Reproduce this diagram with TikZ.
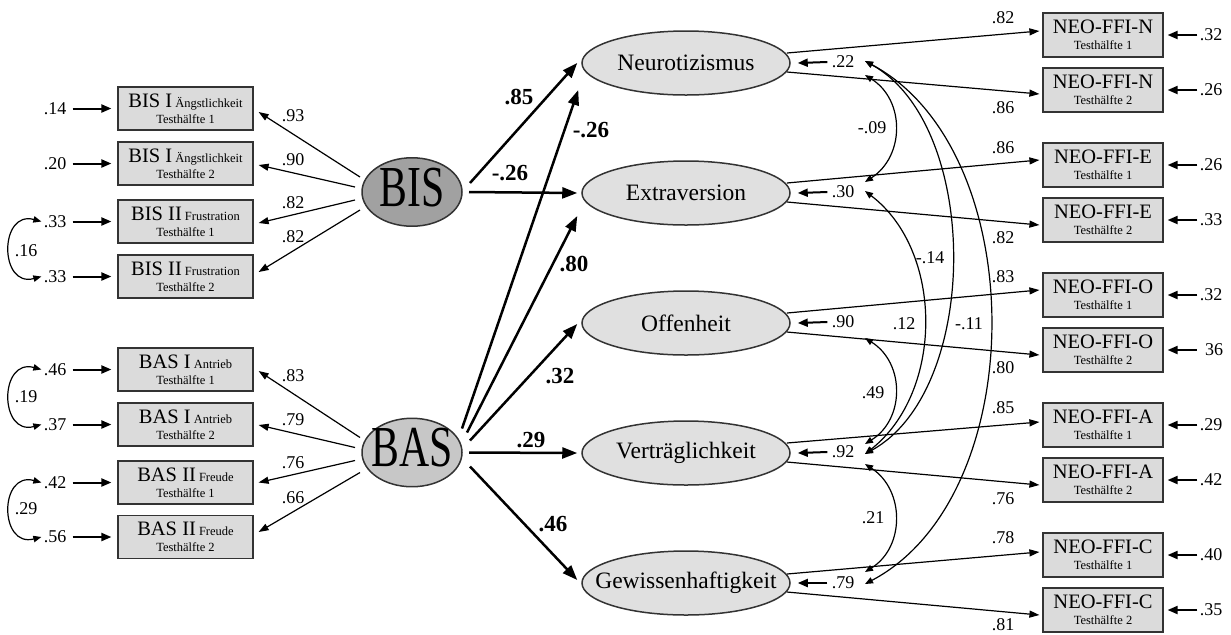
\documentclass[tikz,border=0pt]{standalone}
\usepackage{fontspec}
\setmainfont{Liberation Serif}
\usetikzlibrary{arrows.meta,calc,shapes.geometric}
\definecolor{boxfill}{gray}{0.86}
\definecolor{facfill}{gray}{0.88}
\definecolor{bisfill}{gray}{0.63}
\definecolor{basfill}{gray}{0.78}
\definecolor{edgecol}{gray}{0.2}
\newcommand\bigtxt[1]{{\fontsize{10.25}{8}\selectfont #1}}
\newcommand\latname[1]{\makebox[0pt]{\raisebox{5pt}{\scalebox{0.72}[1]{\fontsize{29}{29}\selectfont #1}}}}
\newcommand\facname[1]{\makebox[0pt]{#1}}
\begin{document}
\begin{tikzpicture}[x=0.5pt,y=-0.5pt,
  ind/.style={draw=edgecol, fill=boxfill, line width=0.6pt, minimum width=67.5pt, minimum height=21.5pt, inner sep=0pt, align=center, font=\fontsize{6.25}{8}\selectfont},
  rind/.style={ind, minimum width=60pt, minimum height=22pt},
  fac/.style={ellipse, draw=edgecol, fill=facfill, line width=0.75pt, minimum width=104pt, minimum height=32pt, inner sep=0pt, font=\fontsize{11.75}{12}\selectfont},
  lat/.style={ellipse, draw=edgecol, line width=0.75pt, minimum width=50pt, minimum height=34pt, inner sep=0pt},
  num/.style={font=\fontsize{9}{9}\selectfont, inner sep=0pt},
  bnum/.style={font=\bfseries\fontsize{11.5}{11.5}\selectfont, inner sep=0pt},
  spath/.style={line width=1.25pt, -{Triangle[length=7.5pt,width=5.5pt]}},
  load/.style={line width=0.6pt, -{Triangle[length=5pt,width=3.5pt]}},
  err/.style={line width=1pt, -{Triangle[length=5pt,width=4pt]}},
  cov/.style={line width=0.6pt, {Triangle[length=4pt,width=3.2pt]}-{Triangle[length=4pt,width=3.2pt]}},
]
\useasboundingbox (0,0) rectangle (1231,634);

% ---------- left indicator boxes ----------
\node[ind] (b1) at (185.5,108.5) {\bigtxt{BIS I} Ängstlichkeit\\Testhälfte 1};
\node[ind] (b2) at (185.5,163.5) {\bigtxt{BIS I} Ängstlichkeit\\Testhälfte 2};
\node[ind] (b3) at (185.5,221.5) {\bigtxt{BIS II} Frustration\\Testhälfte 1};
\node[ind] (b4) at (185.5,276.5) {\bigtxt{BIS II} Frustration\\Testhälfte 2};
\node[ind] (c1) at (185.5,369.5) {\bigtxt{BAS I} Antrieb\\Testhälfte 1};
\node[ind] (c2) at (185.5,424.5) {\bigtxt{BAS I} Antrieb\\Testhälfte 2};
\node[ind] (c3) at (185.5,482.5) {\bigtxt{BAS II} Freude\\Testhälfte 1};
\node[ind] (c4) at (185.5,537) {\bigtxt{BAS II} Freude\\Testhälfte 2};

% left errors
\node[num] (e1) at (55,108.5) {.14};
\node[num] (e2) at (55,163.5) {.20};
\node[num] (e3) at (55,221.5) {.33};
\node[num] (e4) at (55,276.5) {.33};
\node[num] (e5) at (55,369.5) {.46};
\node[num] (e6) at (55,424.5) {.37};
\node[num] (e7) at (55,482.5) {.42};
\node[num] (e8) at (55,537) {.56};
\foreach \e/\b in {e1/b1,e2/b2,e3/b3,e4/b4,e5/c1,e6/c2,e7/c3,e8/c4}
  \draw[err] ([xshift=3pt]\e.east) -- ([xshift=-3pt]\b.west);

% left covariances
\draw[cov] ([xshift=-1pt]e3.west) .. controls (-1,210) and (-1,288) .. ([xshift=-1pt]e4.west);
\draw[cov] ([xshift=-1pt]e5.west) .. controls (-1,358) and (-1,436) .. ([xshift=-1pt]e6.west);
\draw[cov] ([xshift=-1pt]e7.west) .. controls (-1,471) and (-1,548) .. ([xshift=-1pt]e8.west);
\node[num] (k1) at (26,251) {.16};
\node[num] (k2) at (26,397) {.19};
\node[num] (k3) at (26,509) {.29};

% ---------- latent BIS / BAS ----------
\node[lat, fill=bisfill] (bis) at (412,192) {\latname{BIS}};
\node[lat, fill=basfill] (bas) at (412,452.5) {\latname{BAS}};

% loadings to left boxes
\draw[load] ($(bis.center)+(-52,-15)$) -- ($(b1.east)+(5,3.5)$);
\draw[load] ($(bis.center)+(-57,-5)$) -- ($(b2.east)+(5,1.5)$);
\draw[load] ($(bis.center)+(-57,8)$) -- ($(b3.east)+(5,1.5)$);
\draw[load] ($(bis.center)+(-52,18)$) -- ($(b4.east)+(5,-4.5)$);
\draw[load] ($(bas.center)+(-52,-15)$) -- ($(c1.east)+(5,1.5)$);
\draw[load] ($(bas.center)+(-57,-5)$) -- ($(c2.east)+(5,0.5)$);
\draw[load] ($(bas.center)+(-57,8)$) -- ($(c3.east)+(5,0)$);
\draw[load] ($(bas.center)+(-52,20)$) -- ($(c4.east)+(5,-5)$);
\node[num] (l1) at (293,116) {.93};
\node[num] (l2) at (293,160) {.90};
\node[num] (l3) at (293,203) {.82};
\node[num] (l4) at (293,237) {.82};
\node[num] (l5) at (293,376) {.83};
\node[num] (l6) at (293,420) {.79};
\node[num] (l7) at (293,463) {.76};
\node[num] (l8) at (293,498) {.66};

% ---------- factors ----------
\node[fac] (neuro) at (686,63) {\facname{Neurotizismus}};
\node[fac] (extra) at (686,193) {\facname{Extraversion}};
\node[fac] (offen) at (686,323) {\facname{Offenheit}};
\node[fac] (vert) at (686,453) {\facname{Verträglichkeit}};
\node[fac] (gew) at (686,583) {\facname{Gewissenhaftigkeit}};

% structural paths
\draw[spath] ($(bis.center)+(58,-9)$) -- ($(neuro.west)+(-4,0)$);
\draw[spath] ($(bis.center)+(57,0)$) -- ($(extra.west)+(-4,0)$);
\draw[spath] ($(bas.center)+(50,-24)$) -- ($(neuro.west)+(-3,27)$);
\draw[spath] ($(bas.center)+(55,-20)$) -- ($(extra.west)+(-4,23)$);
\draw[spath] ($(bas.center)+(58,-12)$) -- ($(offen.west)+(-4,1)$);
\draw[spath] ($(bas.center)+(57,0)$) -- ($(vert.west)+(-4,0)$);
\draw[spath] ($(bas.center)+(58,14)$) -- ($(gew.west)+(-4,-3)$);
\node[bnum] (p1) at (519,97) {.85};
\node[bnum] (p2) at (510,173) {-.26};
\node[bnum] (p3) at (591,130) {-.26};
\node[bnum] (p4) at (574,264) {.80};
\node[bnum] (p5) at (560,376) {.32};
\node[bnum] (p6) at (531,440) {.29};
\node[bnum] (p7) at (553,524) {.46};

% ---------- right indicator boxes ----------
\node[rind] (n1) at (1103,35) {\bigtxt{NEO-FFI-N}\\Testhälfte 1};
\node[rind] (n2) at (1103,90) {\bigtxt{NEO-FFI-N}\\Testhälfte 2};
\node[rind] (x1) at (1103,165) {\bigtxt{NEO-FFI-E}\\Testhälfte 1};
\node[rind] (x2) at (1103,220) {\bigtxt{NEO-FFI-E}\\Testhälfte 2};
\node[rind] (o1) at (1103,295) {\bigtxt{NEO-FFI-O}\\Testhälfte 1};
\node[rind] (o2) at (1103,350) {\bigtxt{NEO-FFI-O}\\Testhälfte 2};
\node[rind] (a1) at (1103,425) {\bigtxt{NEO-FFI-A}\\Testhälfte 1};
\node[rind] (a2) at (1103,480) {\bigtxt{NEO-FFI-A}\\Testhälfte 2};
\node[rind] (g1) at (1103,555) {\bigtxt{NEO-FFI-C}\\Testhälfte 1};
\node[rind] (g2) at (1103,610) {\bigtxt{NEO-FFI-C}\\Testhälfte 2};

% right loadings
\draw[load] ($(neuro.center)+(101,-10)$) -- ($(n1.west)+(-3,-4)$);
\draw[load] ($(neuro.center)+(101,9)$) -- ($(n2.west)+(-3,4)$);
\draw[load] ($(extra.center)+(101,-10)$) -- ($(x1.west)+(-3,-5)$);
\draw[load] ($(extra.center)+(101,9)$) -- ($(x2.west)+(-3,5)$);
\draw[load] ($(offen.center)+(101,-10)$) -- ($(o1.west)+(-3,-5)$);
\draw[load] ($(offen.center)+(101,9)$) -- ($(o2.west)+(-3,5)$);
\draw[load] ($(vert.center)+(101,-10)$) -- ($(a1.west)+(-3,-3)$);
\draw[load] ($(vert.center)+(101,9)$) -- ($(a2.west)+(-3,5)$);
\draw[load] ($(gew.center)+(101,-9)$) -- ($(g1.west)+(-3,-3)$);
\draw[load] ($(gew.center)+(101,9)$) -- ($(g2.west)+(-3,5)$);
\node[num] (m1) at (1003,18) {.82};
\node[num] (m2) at (1003,108) {.86};
\node[num] (m3) at (1003,148) {.86};
\node[num] (m4) at (1003,238) {.82};
\node[num] (m5) at (1003,277) {.83};
\node[num] (m6) at (1003,368) {.80};
\node[num] (m7) at (1003,408) {.85};
\node[num] (m8) at (1003,499) {.76};
\node[num] (m9) at (1003,538) {.78};
\node[num] (m10) at (1003,625) {.81};

% right errors
\node[num] (r1) at (1211,35) {.32};
\node[num] (r2) at (1211,90) {.26};
\node[num] (r3) at (1211,165) {.26};
\node[num] (r4) at (1211,220) {.33};
\node[num] (r5) at (1211,295) {.32};
\node[num] (r6) at (1214,350) {36};
\node[num] (r7) at (1211,425) {.29};
\node[num] (r8) at (1211,480) {.42};
\node[num] (r9) at (1211,555) {.40};
\node[num] (r10) at (1211,610) {.35};
\foreach \r/\b in {r1/n1,r2/n2,r3/x1,r4/x2,r5/o1,r7/a1,r8/a2,r9/g1,r10/g2}
  \draw[err] ([xshift=-1pt]\r.west) -- ([xshift=2pt]\b.east);
\draw[err] ([xshift=-4pt]r6.west) -- ([xshift=2pt]o2.east);

% factor disturbances
\node[num] (d1) at (843,62) {.22};
\node[num] (d2) at (843,192) {.30};
\node[num] (d3) at (843,322) {.90};
\node[num] (d4) at (843,452) {.92};
\node[num] (d5) at (843,583) {.79};
\draw[err] ([xshift=-2pt]d1.west) -- ($(neuro.east)+(7,0)$);
\draw[err] ([xshift=-2pt]d2.west) -- ($(extra.east)+(7,0)$);
\draw[err] ([xshift=-2pt]d3.west) -- ($(offen.east)+(7,0)$);
\draw[err] ([xshift=-2pt]d4.west) -- ($(vert.east)+(7,0)$);
\draw[err] ([xshift=-2pt]d5.west) -- ($(gew.east)+(7,0)$);

% factor covariances
\coordinate (n22a) at ($(d1)+(22,-1)$);
\coordinate (n22b) at ($(d1)+(22,13)$);
\coordinate (e30a) at ($(d2)+(22,-10)$);
\coordinate (e30b) at ($(d2)+(22,-1)$);
\coordinate (o90b) at ($(d3)+(22,16)$);
\coordinate (a92a) at ($(d4)+(22,-8)$);
\coordinate (a92b) at ($(d4)+(22,2)$);
\coordinate (a92c) at ($(d4)+(22,12)$);
\coordinate (c79a) at ($(d5)+(22,-11)$);
\coordinate (c79b) at ($(d5)+(22,1)$);
\draw[cov] (n22b) .. controls (905,100) and (905,156) .. (e30a);
\draw[cov] (n22a) .. controls (981,125) and (981,390) .. (a92b);
\draw[cov] (n22a) .. controls (1032,150) and (1032,496) .. (c79b);
\draw[cov] (e30b) .. controls (944,251) and (944,392) .. (a92b);
\draw[cov] (o90b) .. controls (905,363) and (905,419) .. (a92a);
\draw[cov] (a92c) .. controls (905,490) and (905,547) .. (c79a);
\node[num] (q1) at (872,128) {-.09};
\node[num] (q2) at (930,258) {-.14};
\node[num] (q3) at (904,324) {.12};
\node[num] (q4) at (969,324) {-.11};
\node[num] (q5) at (873,393) {.49};
\node[num] (q6) at (873,518) {.21};
\end{tikzpicture}
\end{document}
